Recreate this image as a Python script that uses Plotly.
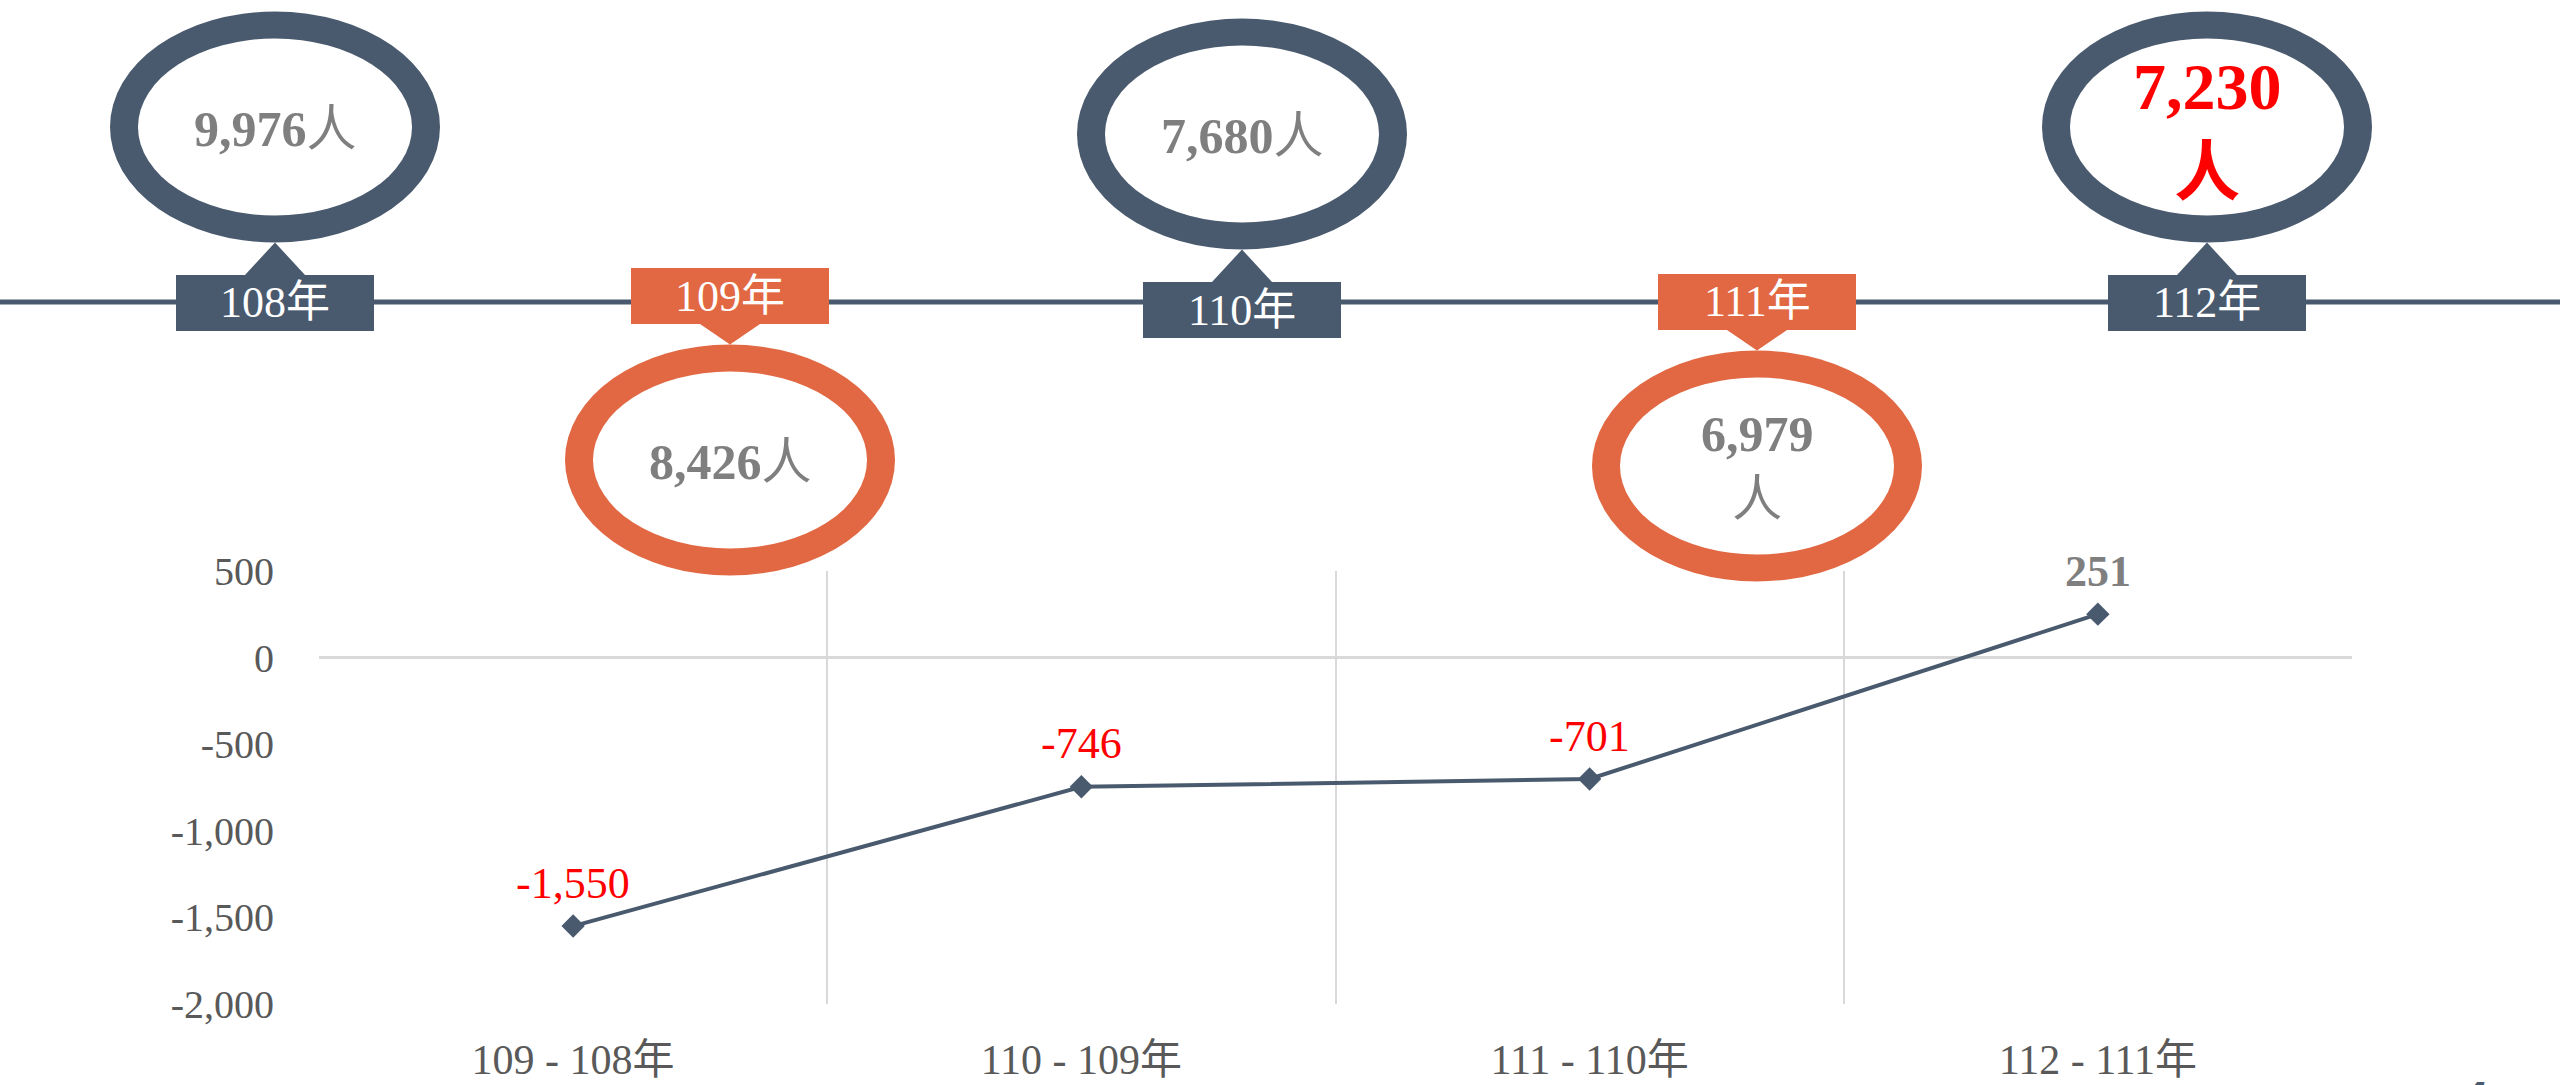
import plotly.graph_objects as go

# ---------------- data ----------------
years = ["108年", "109年", "110年", "111年", "112年"]
counts = [9976, 8426, 7680, 6979, 7230]
diff_labels = ["109 - 108年", "110 - 109年", "111 - 110年", "112 - 111年"]
diffs = [-1550, -746, -701, 251]
y_ticks = [500, 0, -500, -1000, -1500, -2000]

# ---------------- layout / style constants ----------------
W, H = 2560, 1085
NAVY = "#4A5A6E"
ORANGE = "#E16842"
GRAY_TXT = "#7F7F7F"
AXIS_TXT = "#595959"
GRID = "#D9D9D9"
FONT = "Liberation Serif, Times New Roman, Noto Sans CJK TC, serif"

BADGE_X = [275, 730, 1242, 1757, 2207]      # badge centres (px)
ELLIPSE_Y = [127, 460, 134, 466, 127]       # ellipse centres (px, from top)
BOX_Y = [303, 296, 310, 302, 303]           # year box centres (px, from top)
BADGE_COLOR = [NAVY, ORANGE, NAVY, ORANGE, NAVY]
BREAK = [False, False, False, True, True]
HIGHLIGHT = [False, False, False, False, True]
OUT_RX, OUT_RY = 165, 115.5
IN_RX, IN_RY = 137, 88.5
BOX_W, BOX_H = 198, 56
TRI_HW = 30
TIMELINE_Y = 302


def X(px):
    return px / W


def Y(py):
    return 1 - py / H


fig = go.Figure()

fig.add_trace(go.Scatter(
    x=diff_labels, y=diffs, mode="lines+markers",
    line=dict(color=NAVY, width=4),
    marker=dict(symbol="diamond", size=18, color=NAVY),
    hoverinfo="skip", showlegend=False,
))

shapes = []
annotations = []

# timeline
shapes.append(dict(type="line", xref="paper", yref="paper",
                   x0=0, x1=1, y0=Y(TIMELINE_Y), y1=Y(TIMELINE_Y),
                   line=dict(color=NAVY, width=5)))

for i, (yr, cnt) in enumerate(zip(years, counts)):
    cx = BADGE_X[i]
    ey = ELLIPSE_Y[i]
    by = BOX_Y[i]
    col = BADGE_COLOR[i]
    above = ey < by
    # triangle pointer
    if above:
        base = by - BOX_H / 2
        apex = ey + OUT_RY
    else:
        base = by + BOX_H / 2
        apex = ey - OUT_RY
    path = (f"M {X(cx - TRI_HW)},{Y(base)} L {X(cx)},{Y(apex)} "
            f"L {X(cx + TRI_HW)},{Y(base)} Z")
    shapes.append(dict(type="path", xref="paper", yref="paper", path=path,
                       fillcolor=col, line=dict(width=0)))
    # year box
    shapes.append(dict(type="rect", xref="paper", yref="paper",
                       x0=X(cx - BOX_W / 2), x1=X(cx + BOX_W / 2),
                       y0=Y(by + BOX_H / 2), y1=Y(by - BOX_H / 2),
                       fillcolor=col, line=dict(width=0)))
    # ring ellipse
    shapes.append(dict(type="circle", xref="paper", yref="paper",
                       x0=X(cx - OUT_RX), x1=X(cx + OUT_RX),
                       y0=Y(ey + OUT_RY), y1=Y(ey - OUT_RY),
                       fillcolor=col, line=dict(width=0)))
    shapes.append(dict(type="circle", xref="paper", yref="paper",
                       x0=X(cx - IN_RX), x1=X(cx + IN_RX),
                       y0=Y(ey + IN_RY), y1=Y(ey - IN_RY),
                       fillcolor="white", line=dict(width=0)))
    # year label
    annotations.append(dict(xref="paper", yref="paper", x=X(cx), y=Y(by),
                            text=yr, showarrow=False, xanchor="center",
                            yanchor="middle",
                            font=dict(family=FONT, size=44, color="white")))
    # count label
    num = f"{cnt:,}"
    if HIGHLIGHT[i]:
        txt = f"<b>{num}<br>人</b>"
        fnt = dict(family=FONT, size=66, color="#FF0000")
        ty = ey + 2
    elif BREAK[i]:
        txt = f"<b>{num}</b><br>人"
        fnt = dict(family=FONT, size=50, color=GRAY_TXT)
        ty = ey
    else:
        txt = f"<b>{num}</b>人"
        fnt = dict(family=FONT, size=50, color=GRAY_TXT)
        ty = ey + 2
    annotations.append(dict(xref="paper", yref="paper", x=X(cx), y=Y(ty),
                            text=txt, showarrow=False, xanchor="center",
                            yanchor="middle", font=fnt))

# data labels of the line chart
for lab, v in zip(diff_labels, diffs):
    if v < 0:
        txt = f"{v:,}"
        fnt = dict(family=FONT, size=44, color="#FF0000")
    else:
        txt = f"<b>{v:,}</b>"
        fnt = dict(family=FONT, size=44, color=GRAY_TXT)
    annotations.append(dict(xref="x", yref="y", x=lab, y=v, text=txt,
                            showarrow=False, xanchor="center",
                            yanchor="middle", yshift=43, font=fnt))

# page number (cut at the bottom edge, as in the original slide)
annotations.append(dict(xref="paper", yref="paper", x=X(2473), y=Y(1072),
                        text="<i><b>4</b></i>", showarrow=False,
                        xanchor="center", yanchor="top",
                        font=dict(family="Liberation Sans, Arial", size=40,
                                  color=NAVY)))

fig.update_layout(
    width=W, height=H,
    margin=dict(l=0, r=0, t=0, b=0, autoexpand=False),
    paper_bgcolor="white", plot_bgcolor="white",
    showlegend=False,
    shapes=shapes, annotations=annotations,
    xaxis=dict(domain=[X(319), X(2352)], type="category",
               range=[-0.5, 3.5], tickson="boundaries",
               showgrid=True, gridcolor=GRID, gridwidth=2,
               ticks="", showline=False, zeroline=False,
               automargin=False, ticklabelstandoff=27,
               tickfont=dict(family=FONT, size=42, color=AXIS_TXT)),
    yaxis=dict(domain=[Y(1004), Y(571)], range=[-2000, 500],
               tickmode="array", tickvals=y_ticks,
               ticktext=[f"{t:,}" for t in y_ticks],
               showgrid=False, zeroline=True, zerolinecolor=GRID,
               zerolinewidth=3, showline=False, ticks="",
               automargin=False, ticklabelstandoff=44,
               tickfont=dict(family=FONT, size=40, color=AXIS_TXT)),
)

fig.write_html("out.html",
               config={"displayModeBar": False},
               post_script="document.body.style.margin='0';"
                           "document.body.style.overflow='hidden';")
